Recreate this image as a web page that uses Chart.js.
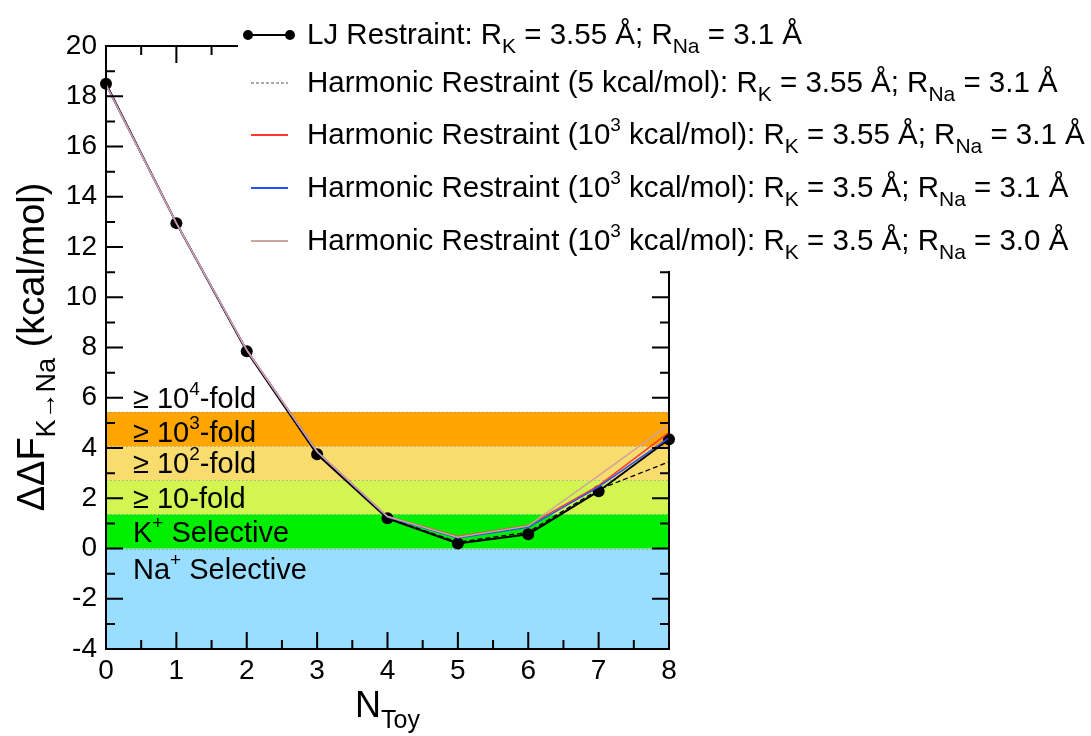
<!DOCTYPE html>
<html>
<head>
<meta charset="utf-8">
<script src="https://cdn.jsdelivr.net/npm/chart.js@4.4.1/dist/chart.umd.min.js"></script>
<style>
html, body { margin: 0; padding: 0; background: #fff; }
</style>
</head>
<body>
<canvas id="selectivity" width="1091" height="736"></canvas>
<script>
// N_Toy on the x axis
var nToy = [0, 1, 2, 3, 4, 5, 6, 7, 8];

// ddF (kcal/mol) for each restraint type
var ljRestraint = [18.5, 12.95, 7.85, 3.75, 1.2, 0.2, 0.57, 2.28, 4.35];
var harmonic5 = [18.5, 12.95, 7.85, 3.8, 1.22, 0.25, 0.65, 2.35, 3.45];
var harmonic1000a = [18.45, 12.95, 7.9, 3.85, 1.27, 0.48, 0.92, 2.5, 4.62];
var harmonic1000b = [18.45, 12.95, 7.9, 3.85, 1.25, 0.42, 0.84, 2.45, 4.4];
var harmonic1000c = [18.45, 12.95, 7.9, 3.85, 1.27, 0.45, 0.9, 2.9, 4.92];

// selectivity bands (kcal/mol)
var bandEdges = [-4, 0, 1.36, 2.72, 4.07, 5.43];
var bandColours = ['#99ddff', '#00ee00', '#d2f552', '#f9dc6e', '#ffa500'];

var yTicks = [-4, -2, 0, 2, 4, 6, 8, 10, 12, 14, 16, 18, 20];
var xTicks = [0, 1, 2, 3, 4, 5, 6, 7, 8];

var FONT = "'Liberation Sans', Arial, Helvetica, sans-serif";

// text pieces: k = 0 normal, 1 subscript, 2 superscript
var bandLabels = [
	{ y: 5.6, parts: [{ t: '\u2265 10' }, { t: '4', k: 2 }, { t: '-fold' }] },
	{ y: 4.23, parts: [{ t: '\u2265 10' }, { t: '3', k: 2 }, { t: '-fold' }] },
	{ y: 3.0, parts: [{ t: '\u2265 10' }, { t: '2', k: 2 }, { t: '-fold' }] },
	{ y: 1.63, parts: [{ t: '\u2265 10-fold' }] },
	{ y: 0.26, parts: [{ t: 'K' }, { t: '+', k: 2 }, { t: ' Selective' }] },
	{ y: -1.22, parts: [{ t: 'Na' }, { t: '+', k: 2 }, { t: ' Selective' }] },
];

var legendRows = [
	{ style: 'lj', parts: [{ t: 'LJ Restraint: R' }, { t: 'K', k: 1 }, { t: ' = 3.55 \u00c5; R' }, { t: 'Na', k: 1 }, { t: ' = 3.1 \u00c5' }] },
	{ style: 'dash', parts: [{ t: 'Harmonic Restraint (5 kcal/mol): R' }, { t: 'K', k: 1 }, { t: ' = 3.55 \u00c5; R' }, { t: 'Na', k: 1 }, { t: ' = 3.1 \u00c5' }] },
	{ style: '#ff3b30', parts: [{ t: 'Harmonic Restraint (10' }, { t: '3', k: 2 }, { t: ' kcal/mol): R' }, { t: 'K', k: 1 }, { t: ' = 3.55 \u00c5; R' }, { t: 'Na', k: 1 }, { t: ' = 3.1 \u00c5' }] },
	{ style: '#2a4dff', parts: [{ t: 'Harmonic Restraint (10' }, { t: '3', k: 2 }, { t: ' kcal/mol): R' }, { t: 'K', k: 1 }, { t: ' = 3.5 \u00c5; R' }, { t: 'Na', k: 1 }, { t: ' = 3.1 \u00c5' }] },
	{ style: '#cfa3a0', parts: [{ t: 'Harmonic Restraint (10' }, { t: '3', k: 2 }, { t: ' kcal/mol): R' }, { t: 'K', k: 1 }, { t: ' = 3.5 \u00c5; R' }, { t: 'Na', k: 1 }, { t: ' = 3.0 \u00c5' }] },
];
var legendBaselines = [44, 92, 144, 197, 250];

function points(values) {
	return nToy.map(function (x, i) { return { x: x, y: values[i] }; });
}

// draws text with sub/superscripts, returns width
function richText(ctx, parts, x, y, size, draw) {
	var start = x;
	parts.forEach(function (p) {
		var s = size, dy = 0;
		if (p.k === 1) { s = Math.round(size * 0.7); dy = size * 0.3; }
		if (p.k === 2) { s = Math.round(size * 0.65); dy = -size * 0.45; }
		ctx.font = s + 'px ' + FONT;
		if (draw) ctx.fillText(p.t, x, y + dy);
		x += ctx.measureText(p.t).width;
	});
	return x - start;
}

var decorations = {
	id: 'decorations',
	beforeDatasetsDraw: function (chart) {
		var ctx = chart.ctx, a = chart.chartArea, ys = chart.scales.y;
		ctx.save();
		for (var i = 0; i < bandColours.length; i++) {
			var top = ys.getPixelForValue(bandEdges[i + 1]);
			var bottom = ys.getPixelForValue(bandEdges[i]);
			ctx.fillStyle = bandColours[i];
			ctx.fillRect(a.left, top, a.right - a.left, bottom - top);
		}
		ctx.strokeStyle = 'rgba(120,120,120,0.45)';
		ctx.lineWidth = 1;
		ctx.setLineDash([2, 2]);
		for (var j = 1; j < bandEdges.length; j++) {
			var py = Math.round(ys.getPixelForValue(bandEdges[j])) + 0.5;
			ctx.beginPath();
			ctx.moveTo(a.left, py);
			ctx.lineTo(a.right, py);
			ctx.stroke();
		}
		ctx.setLineDash([]);
		ctx.fillStyle = '#000';
		ctx.textBaseline = 'alphabetic';
		ctx.textAlign = 'left';
		bandLabels.forEach(function (b) {
			richText(ctx, b.parts, a.left + 27, ys.getPixelForValue(b.y), 29, true);
		});
		ctx.restore();
	},
	afterDraw: function (chart) {
		var ctx = chart.ctx, a = chart.chartArea, xs = chart.scales.x, ys = chart.scales.y;
		ctx.save();
		ctx.strokeStyle = '#000';
		ctx.lineWidth = 2;
		ctx.strokeRect(a.left, a.top, a.right - a.left, a.bottom - a.top);
		ctx.beginPath();
		for (var v = -4; v <= 20; v++) {
			var len = v % 2 === 0 ? 17 : 9;
			var py = ys.getPixelForValue(v);
			ctx.moveTo(a.left, py); ctx.lineTo(a.left + len, py);
			ctx.moveTo(a.right, py); ctx.lineTo(a.right - len, py);
		}
		for (var h = 0; h <= 16; h++) {
			var l2 = h % 2 === 0 ? 17 : 9;
			var px = xs.getPixelForValue(h / 2);
			ctx.moveTo(px, a.bottom); ctx.lineTo(px, a.bottom - l2);
			ctx.moveTo(px, a.top); ctx.lineTo(px, a.top + l2);
		}
		ctx.stroke();

		// legend box sits over the top right of the frame
		ctx.fillStyle = '#fff';
		ctx.fillRect(238, 0, chart.width - 238, 271);
		ctx.fillStyle = '#000';
		ctx.textBaseline = 'alphabetic';
		legendRows.forEach(function (r, i) {
			var by = legendBaselines[i];
			var ly = by - 9;
			ctx.setLineDash([]);
			if (r.style === 'lj') {
				ctx.strokeStyle = '#000'; ctx.lineWidth = 2;
				ctx.beginPath(); ctx.moveTo(248, ly); ctx.lineTo(290, ly); ctx.stroke();
				ctx.beginPath(); ctx.arc(248, ly, 5, 0, Math.PI * 2); ctx.fill();
				ctx.beginPath(); ctx.arc(290, ly, 5, 0, Math.PI * 2); ctx.fill();
			} else if (r.style === 'dash') {
				ctx.strokeStyle = '#555'; ctx.lineWidth = 1.2; ctx.setLineDash([3, 2]);
				ctx.beginPath(); ctx.moveTo(251, ly); ctx.lineTo(288, ly); ctx.stroke();
			} else {
				ctx.strokeStyle = r.style; ctx.lineWidth = 2;
				ctx.beginPath(); ctx.moveTo(251, ly); ctx.lineTo(288, ly); ctx.stroke();
			}
			ctx.setLineDash([]);
			richText(ctx, r.parts, 307, by, 29.5, true);
		});

		// axis titles
		var yTitle = [{ t: '\u0394\u0394F' }, { t: 'K\u2192Na', k: 1 }, { t: ' (kcal/mol)' }];
		var w = richText(ctx, yTitle, 0, 0, 38, false);
		ctx.save();
		ctx.translate(44, 347);
		ctx.rotate(-Math.PI / 2);
		richText(ctx, yTitle, -w / 2, 0, 38, true);
		ctx.restore();
		richText(ctx, [{ t: 'N' }, { t: 'Toy', k: 1 }], 355, 717, 36, true);
		ctx.restore();
	}
};

var lineBase = { pointRadius: 0, clip: false, fill: false, tension: 0 };

var config = {
	type: 'line',
	data: {
		datasets: [
			Object.assign({}, lineBase, { label: 'LJ', data: points(ljRestraint), borderColor: '#000', borderWidth: 2, pointRadius: 6, pointBackgroundColor: '#000', pointBorderWidth: 0, order: 5 }),
			Object.assign({}, lineBase, { label: 'H5', data: points(harmonic5), borderColor: '#000', borderWidth: 1.3, borderDash: [5, 3], order: 4 }),
			Object.assign({}, lineBase, { label: 'H1000a', data: points(harmonic1000a), borderColor: '#ff3b30', borderWidth: 1.5, order: 3 }),
			Object.assign({}, lineBase, { label: 'H1000b', data: points(harmonic1000b), borderColor: '#2a4dff', borderWidth: 1.5, order: 2 }),
			Object.assign({}, lineBase, { label: 'H1000c', data: points(harmonic1000c), borderColor: '#cfa3a0', borderWidth: 1.5, order: 1 }),
		]
	},
	options: {
		responsive: false,
		devicePixelRatio: 1,
		animation: false,
		layout: { padding: { top: 46, right: 422, left: 0, bottom: 0 } },
		plugins: { legend: { display: false }, tooltip: { enabled: false } },
		scales: {
			x: {
				type: 'linear',
				min: 0,
				max: 8,
				afterFit: function (s) { s.height = 87; },
				afterBuildTicks: function (s) { s.ticks = xTicks.map(function (v) { return { value: v }; }); },
				grid: { display: false, drawTicks: false },
				border: { display: false },
				ticks: { color: '#000', font: { family: FONT, size: 28 }, padding: 5, maxRotation: 0 }
			},
			y: {
				min: -4,
				max: 20,
				afterFit: function (s) { s.width = 106; },
				afterBuildTicks: function (s) { s.ticks = yTicks.map(function (v) { return { value: v }; }); },
				grid: { display: false, drawTicks: false },
				border: { display: false },
				ticks: { color: '#000', font: { family: FONT, size: 28 }, padding: 9 }
			}
		}
	},
	plugins: [decorations]
};

var chart = new Chart(document.getElementById('selectivity'), config);
</script>
</body>
</html>
